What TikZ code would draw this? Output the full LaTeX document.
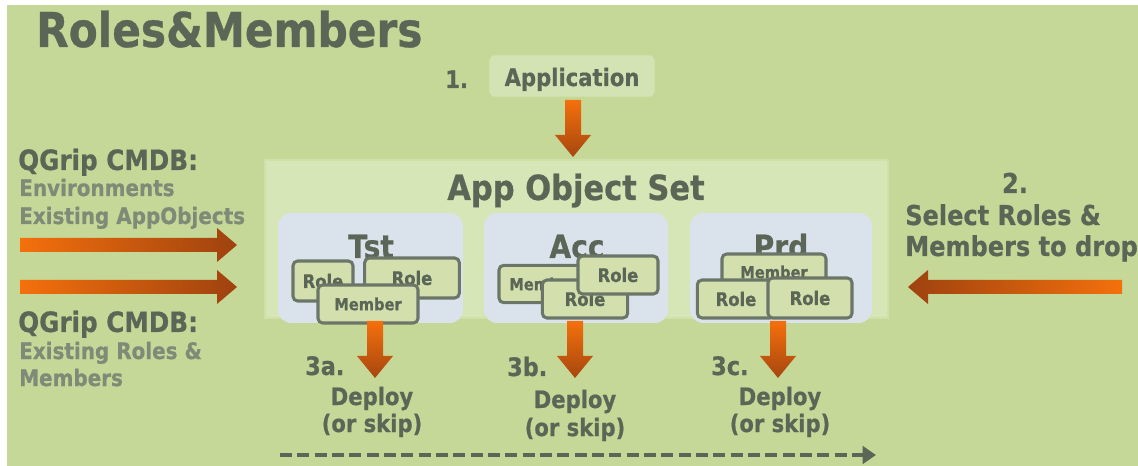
\documentclass[tikz,border=0pt]{standalone}
\usepackage{fontspec}
\setmainfont{DejaVu Sans}
\newfontfamily\tah{DejaVu Sans}[FakeStretch=0.88, BoldFeatures={FakeBold=0.6}]
\usetikzlibrary{calc,arrows.meta}

\definecolor{bg}{HTML}{C5D898}
\definecolor{setfill}{HTML}{D7E6B7}
\definecolor{appfill}{HTML}{D4E3B4}
\definecolor{panel}{HTML}{DAE3EC}
\definecolor{chip}{HTML}{D3E0AE}
\definecolor{chipline}{HTML}{6C7668}
\definecolor{ink}{HTML}{5B6656}
\definecolor{soft}{HTML}{7F8A77}
\definecolor{orangeA}{HTML}{F4700C}
\definecolor{orangeB}{HTML}{9E420F}

% block arrow pointing down, from #1 to tip #2 (same x)
\newcommand\vblock[2]{%
  \shade[top color=orangeA, bottom color=orangeB!90!orangeA]
  let \p1=#1, \p2=#2 in
  (\x1-6pt,\y1) -- (\x1+6pt,\y1) -- (\x1+6pt,\y2+16.5pt) -- (\x1+13.5pt,\y2+16.5pt)
  -- (\x2,\y2) -- (\x1-13.5pt,\y2+16.5pt) -- (\x1-6pt,\y2+16.5pt) -- cycle;}
% block arrow pointing right, from #1 to tip #2 (same y)
\newcommand\rblock[2]{%
  \shade[left color=orangeA, right color=orangeB]
  let \p1=#1, \p2=#2 in
  (\x1,\y1+5.25pt) -- (\x2-15pt,\y1+5.25pt) -- (\x2-15pt,\y1+12.75pt) -- (\x2,\y2)
  -- (\x2-15pt,\y1-12.75pt) -- (\x2-15pt,\y1-5.25pt) -- (\x1,\y1-5.25pt) -- cycle;}
% block arrow pointing left, from #1 to tip #2 (same y)
\newcommand\lblock[2]{%
  \shade[left color=orangeB, right color=orangeA]
  let \p1=#1, \p2=#2 in
  (\x1,\y1+5.25pt) -- (\x2+15pt,\y1+5.25pt) -- (\x2+15pt,\y1+12.75pt) -- (\x2,\y2)
  -- (\x2+15pt,\y1-12.75pt) -- (\x2+15pt,\y1-5.25pt) -- (\x1,\y1-5.25pt) -- cycle;}

\tikzset{
  tx/.style={inner sep=0pt, text=ink, font=\tah\bfseries\fontsize{#1}{#1}\selectfont},
  sx/.style={inner sep=0pt, text=soft, font=\tah\bfseries\fontsize{#1}{#1}\selectfont},
  envpanel/.style={fill=panel, rounded corners=10pt},
  chipbox/.style={draw=chipline, line width=2.3pt, fill=chip, rounded corners=3.5pt,
    inner sep=0pt, text=ink, font=\tah\bfseries\fontsize{14}{14}\selectfont},
  rolebox/.style={chipbox},
  memberbox/.style={chipbox, font=\tah\bfseries\fontsize{12.5}{12.5}\selectfont},
}

\begin{document}
\begin{tikzpicture}[x=0.75pt, y=-0.75pt]
\useasboundingbox (0,0) rectangle (1138,466);
\fill[white] (0,0) rectangle (1138,466);
\fill[bg] (7,5) rectangle (1138,466);

% title
\node[tx=36, anchor=base west] (title) at (36,47) {Roles\&Members};

% step 1
\node[tx=18, anchor=base west] (s1) at (445,88) {1.};
\node[fill=appfill, rounded corners=4pt, minimum width=124pt, minimum height=31pt,
      inner sep=0pt] (app) at (572,76) {};
\node[tx=18, anchor=base] (applbl) at (572,86) {Application};
\coordinate (appout) at (573,100);

% app object set
\fill[setfill, draw=setfill!55!bg, line width=2pt] (265,160) rectangle (888,318);
\coordinate (settop) at (573,157);
\node[tx=26, anchor=base] (setlbl) at (576,200) {App Object Set};

% environment panels
\fill[envpanel] (278,213) rectangle (463,323);
\fill[envpanel] (484,213) rectangle (668,323);
\fill[envpanel] (690,213) rectangle (872,323);
\node[tx=24, anchor=base] (tst) at (371,258) {Tst};
\node[tx=24, anchor=base] (acc) at (577,258) {Acc};
\node[tx=24, anchor=base] (prd) at (781,258) {Prd};

% Tst chips
\node[rolebox, minimum width=45pt, minimum height=30pt] (tr1) at (323,281) {Role};
\node[rolebox, minimum width=71pt, minimum height=30pt] (tr2) at (412,278) {Role};
\node[memberbox, minimum width=75pt, minimum height=28.5pt] (tm) at (368,304) {Member};
% Acc chips
\node[memberbox, minimum width=66pt, minimum height=28pt] (am) at (543,284) {Member};
\node[rolebox, minimum width=64pt, minimum height=28.5pt] (ar1) at (585,299) {Role};
\node[rolebox, minimum width=60pt, minimum height=28.5pt] (ar2) at (618,275) {Role};
% Prd chips
\node[memberbox, minimum width=78pt, minimum height=27pt] (pm) at (774,272) {Member};
\node[rolebox, minimum width=58pt, minimum height=28.5pt] (pr1) at (736,299) {Role};
\node[rolebox, minimum width=63pt, minimum height=30pt] (pr2) at (810,298) {Role};

% application into the set
\vblock{(appout)}{(settop)}

% left inputs
\node[tx=21, anchor=base west] (q1) at (18,170) {QGrip CMDB:};
\node[sx=17, anchor=base west] (q1a) at (19,196) {Environments};
\node[sx=17, anchor=base west] (q1b) at (19,224) {Existing AppObjects};
\node[tx=21, anchor=base west] (q2) at (18,332) {QGrip CMDB:};
\node[sx=17, anchor=base west] (q2a) at (19,359) {Existing Roles \&};
\node[sx=17, anchor=base west] (q2b) at (19,386) {Members};
\coordinate (in1s) at (20,245);  \coordinate (in1e) at (237,245);
\coordinate (in2s) at (20,287);  \coordinate (in2e) at (237,287);
\rblock{(in1s)}{(in1e)}
\rblock{(in2s)}{(in2e)}

% right input
\node[tx=20.5, anchor=base] (s2) at (1015,193) {2.};
\node[tx=20.5, anchor=base west] (s2a) at (905,225) {Select Roles \&};
\node[tx=20.5, anchor=base west] (s2b) at (905,256) {Members to drop};
\coordinate (in3s) at (1122,287); \coordinate (in3e) at (908,287);
\lblock{(in3s)}{(in3e)}

% deployments
\coordinate (d1s) at (375,321); \coordinate (d1e) at (375,378);
\coordinate (d2s) at (575,321); \coordinate (d2e) at (575,378);
\coordinate (d3s) at (778,321); \coordinate (d3e) at (778,378);
\vblock{(d1s)}{(d1e)}
\vblock{(d2s)}{(d2e)}
\vblock{(d3s)}{(d3e)}
\node[tx=19, anchor=base west] (n3a) at (305,375) {3a.};
\node[tx=19, anchor=base west] (n3b) at (507,376) {3b.};
\node[tx=19, anchor=base west] (n3c) at (711,375) {3c.};
\node[tx=18, anchor=base] (dep1) at (372,405) {Deploy};
\node[tx=18, anchor=base] (skip1) at (372,432) {(or skip)};
\node[tx=18, anchor=base] (dep2) at (575,408) {Deploy};
\node[tx=18, anchor=base] (skip2) at (575,436) {(or skip)};
\node[tx=18, anchor=base] (dep3) at (780,405) {Deploy};
\node[tx=18, anchor=base] (skip3) at (780,432) {(or skip)};

% timeline
\coordinate (tl0) at (280,455); \coordinate (tl1) at (876,455);
\draw[ink, line width=3.6pt, dash pattern=on 9pt off 4pt,
      -{Triangle[length=10pt, width=13pt]}] (tl0) -- (tl1);
\end{tikzpicture}
\end{document}
